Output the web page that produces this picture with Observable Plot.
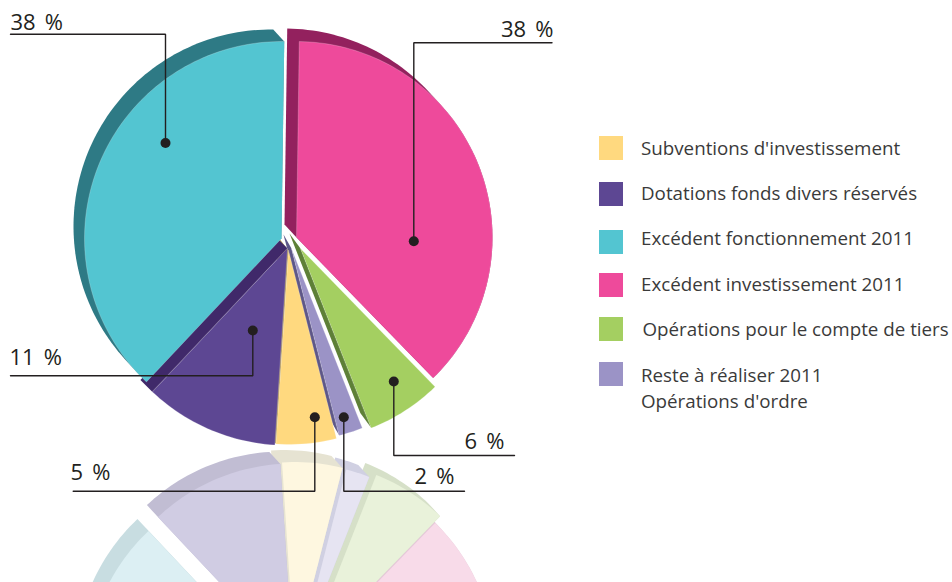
<!DOCTYPE html>
<html lang="fr">
<head>
<meta charset="utf-8">
<script src="https://cdn.jsdelivr.net/npm/d3@7"></script>
<script src="https://cdn.jsdelivr.net/npm/@observablehq/plot@0.6"></script>
<style>html,body{margin:0;padding:0;background:#fff;overflow:hidden}svg{display:block}.pct text{word-spacing:3.5px}</style>
</head>
<body>
<div id="chart"></div>
<script>
// ---- data, clockwise from the top of the pie ----
const categories = ["Excédent investissement 2011", "Opérations pour le compte de tiers", "Reste à réaliser 2011", "Subventions d'investissement", "Dotations fonds divers réservés", "Excédent fonctionnement 2011"];
const shares = [37.5, 6.3, 2.0, 5.0, 11.0, 38.2];
const percentLabels = ["38 %", "6 %", "2 %", "5 %", "11 %", "38 %"];
const legendOrder = [3, 4, 5, 0, 1, 2];
const legendExtraLine = "Opérations d'ordre";

// ---- styles ----
const frontColors = ["#ee4a9b", "#a4cf61", "#9b93c6", "#ffd97f", "#5d4793", "#53c5d1"];
const sideColors = ["#93215e", "#5e8037", "#5e5788", "#a98f4f", "#40296a", "#2e7a85"];
const ghostFront = ["#f8dbe9", "#e9f2da", "#e6e4f2", "#fef7e0", "#d0cce3", "#dceff3"];
const ghostSide = ["#e6c8d9", "#d6e0c8", "#d0d0e2", "#e6e3d2", "#c1bdd3", "#c8dde1"];
const ink = "#231f20";
const legendInk = "#3a3a3a";
const labelFont = "'Open Sans', sans-serif";

// ---- layout of the exploded pie, in the picture's units ----
const W = 952, H = 582;
const startAngle = 0.8;
const centres = [[296, 237], [300, 248], [291, 248], [288, 250], [287, 248], [281, 238]];
const radii = [196, 193, 193, 194, 197, 197];
const depths = [[-12, -13], [-11, -15], [-8, -14], [-10, -13], [-12, -12], [-11, -12]];
const sweptWhole = [true, false, false, false, false, true];
const sideOrder = [5, 0, 1, 2, 3, 4];
const ghostDepth = [-11, -12];
const ghostShiftX = [2, 5, 7, 6, 5.5, 2];
const ghostMirrorSum = [900, 902, 904, 905.5, 908, 912];

const leaderPaths = [
  [[551.5, 42.3], [413.3, 42.3], [413.3, 240.7]],
  [[514, 455], [393.3, 455], [393.3, 381]],
  [[464, 490.7], [343.3, 490.7], [343.3, 416.7]],
  [[72.7, 490.7], [314.3, 490.7], [314.3, 416.7]],
  [[10, 375.3], [252.3, 375.3], [252.3, 330]],
  [[10, 33.7], [165, 33.7], [165, 142.5]]
];
const labelX = [553, 504, 454, 70, 9, 10];
const labelY = [29.5, 441.5, 476.5, 472.5, 357, 22.5];
const labelAnchor = ["end", "end", "end", "start", "start", "start"];
const legendSwatchX = 611, legendSwatch = 24;
const legendTextX = [640.5, 640.5, 640.5, 640.5, 642, 640.5];
const legendRowY = [148, 194, 242, 285, 329, 374];
const legendTextY = [148, 193, 238, 284, 329, 375];
const legendExtraY = 401;

// ---- geometry built from the shares ----
const cum = d3.cumsum(shares);
const total = cum[cum.length - 1];
const angle = s => startAngle + 360 * s / total;
const polar = (c, r, deg) => {
  const t = deg * Math.PI / 180;
  return [c[0] + r * Math.sin(t), c[1] - r * Math.cos(t)];
};
const spans = shares.map((_, i) => [angle(i ? cum[i - 1] : 0), angle(cum[i])]);
const wedge = i => {
  const [a0, a1] = spans[i];
  const n = Math.ceil((a1 - a0) / 1.5);
  return [centres[i], ...d3.range(n + 1).map(k => polar(centres[i], radii[i], a0 + (a1 - a0) * k / n))];
};
const move = (pts, d) => pts.map(p => [p[0] + d[0], p[1] + d[1]]);
const sweep = (pts, d) => d3.polygonHull([...pts, ...move(pts, d)]);
const sidePolygon = i => {
  if (sweptWhole[i]) return sweep(wedge(i), depths[i]);
  const outer = polar(centres[i], radii[i], spans[i][1]);
  return [centres[i], outer, ...move([outer, centres[i]], depths[i])];
};
const ghostWedge = i => wedge(i).map(p => [p[0] + ghostShiftX[i], ghostMirrorSum[i] - p[1]]);

const rows = [];
const pushPoly = (id, color, pts) => pts.forEach(p => rows.push({id, color, x: p[0], y: p[1]}));
sideOrder.forEach(i => pushPoly("gs" + i, ghostSide[i], sweep(ghostWedge(i), ghostDepth)));
sideOrder.forEach(i => pushPoly("gf" + i, ghostFront[i], ghostWedge(i)));
sideOrder.forEach(i => pushPoly("s" + i, sideColors[i], sidePolygon(i)));
const frontRows = [];
sideOrder.forEach(i => wedge(i).forEach(p => frontRows.push({id: i, color: frontColors[i], x: p[0], y: p[1]})));

const leaders = leaderPaths.flatMap((path, i) => path.map(p => ({id: i, x: p[0], y: p[1]})));
const dots = leaderPaths.map(path => ({x: path[2][0], y: path[2][1]}));
const labels = percentLabels.map((text, i) => ({text, x: labelX[i], y: labelY[i], anchor: labelAnchor[i]}));
const legendRows = legendOrder.map((c, r) => ({name: categories[c], color: frontColors[c], y: legendRowY[r], ty: legendTextY[r], tx: legendTextX[r]}));

const textOpts = {fontFamily: labelFont, lineAnchor: "middle"};
const plot = Plot.plot({
  width: W, height: H, margin: 0,
  x: {domain: [0, W], range: [0, W], axis: null},
  y: {domain: [0, H], range: [0, H], axis: null},
  color: {type: "identity"},
  marks: [
    Plot.line(rows, {x: "x", y: "y", z: "id", fill: "color", stroke: "none", curve: "linear-closed", clip: true}),
    Plot.line(frontRows, {x: "x", y: "y", z: "id", fill: "color", stroke: "#ffffff", strokeOpacity: 0.35, strokeWidth: 0.6, curve: "linear-closed"}),
    Plot.line(leaders, {x: "x", y: "y", z: "id", stroke: ink, strokeWidth: 1.4, strokeLinejoin: "miter"}),
    Plot.dot(dots, {x: "x", y: "y", r: 5, fill: ink, stroke: "none"}),
    Plot.text(labels.filter(d => d.anchor === "start"), {x: "x", y: "y", text: "text", fill: ink, fontSize: 22, fontWeight: 500, textAnchor: "start", className: "pct", ...textOpts}),
    Plot.text(labels.filter(d => d.anchor === "end"), {x: "x", y: "y", text: "text", fill: ink, fontSize: 22, fontWeight: 500, textAnchor: "end", className: "pct", ...textOpts}),
    Plot.rect(legendRows, {
      x1: () => legendSwatchX - legendSwatch / 2, x2: () => legendSwatchX + legendSwatch / 2,
      y1: d => d.y - legendSwatch / 2, y2: d => d.y + legendSwatch / 2, fill: "color"
    }),
    Plot.text(legendRows, {x: "tx", y: "ty", text: "name", fill: legendInk, fontSize: 18.75, textAnchor: "start", ...textOpts}),
    Plot.text([legendExtraLine], {x: () => legendTextX[0], y: () => legendExtraY, text: d => d, fill: legendInk, fontSize: 18.75, textAnchor: "start", ...textOpts})
  ]
});
document.getElementById("chart").append(plot);
</script>
</body>
</html>
